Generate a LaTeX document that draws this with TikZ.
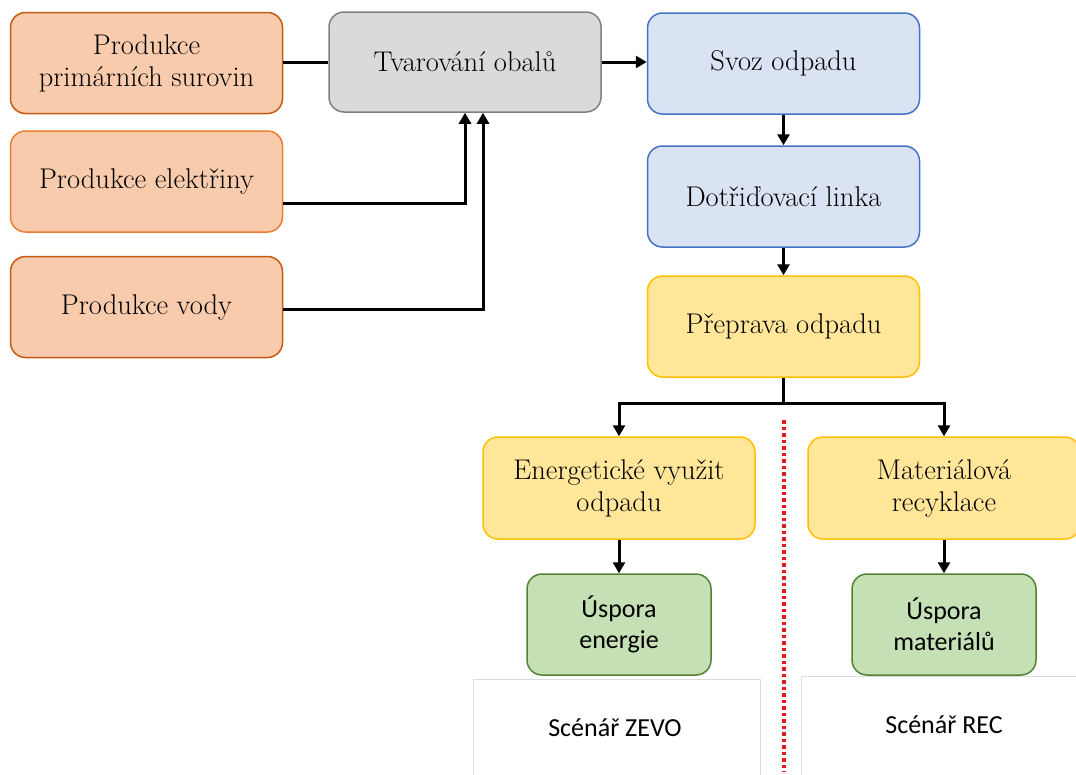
\documentclass[tikz,border=0pt]{standalone}
\usepackage{fontspec}
\newfontfamily\calib{Carlito}
\usetikzlibrary{arrows.meta}
\definecolor{orfill}{HTML}{F8CBAD}
\definecolor{ordark}{HTML}{C55A11}
\definecolor{orlight}{HTML}{ED7D31}
\definecolor{gyfill}{HTML}{DADADA}
\definecolor{gyline}{HTML}{808080}
\definecolor{blfill}{HTML}{DAE3F3}
\definecolor{blline}{HTML}{4472C4}
\definecolor{yefill}{HTML}{FFE699}
\definecolor{yeline}{HTML}{FFC000}
\definecolor{grfill}{HTML}{C5E0B4}
\definecolor{grline}{HTML}{548235}
\definecolor{dotred}{HTML}{E41A1A}
\definecolor{frameg}{HTML}{DCDCDC}
\tikzset{
  box/.style={rounded corners=15pt, line width=1.5pt, minimum width=272pt, minimum height=101pt,
    inner sep=0pt, align=center, font=\fontsize{28.5}{32}\selectfont},
  orbox/.style={box, fill=orfill, draw=ordark},
  orlbox/.style={box, fill=orfill, draw=orlight},
  gybox/.style={box, fill=gyfill, draw=gyline},
  blbox/.style={box, fill=blfill, draw=blline},
  yebox/.style={box, fill=yefill, draw=yeline},
  grbox/.style={box, fill=grfill, draw=grline, minimum width=184pt, font=\calib\fontsize{26}{31}\selectfont},
  conn/.style={line width=3pt, black},
  arr/.style={conn, -{Triangle[length=11pt,width=12pt]}},
  frame/.style={line width=0.8pt, draw=frameg},
  scen/.style={font=\calib\fontsize{26}{30}\selectfont, inner sep=0pt}
}
\begin{document}
\begin{tikzpicture}[x=1pt,y=-1pt]
\useasboundingbox (0,0) rectangle (1076,774);
\fill[white] (0,0) rectangle (1076,774);
% nodes
\node[orbox]  (p1) at (146.5,63) {Produkce\\primárních surovin};
\node[orlbox] (p2) at (146.5,181.5) {Produkce elektřiny};
\node[orbox]  (p3) at (146.5,307) {Produkce vody};
\node[gybox, minimum height=100pt] (tv) at (465,62) {Tvarování obalů};
\node[blbox] (sv) at (783.5,63.5) {Svoz odpadu};
\node[blbox] (dt) at (783.5,196.5) {Dotřiďovací linka};
\node[yebox] (pr) at (783.5,326.5) {Přeprava odpadu};
\node[yebox, minimum height=102pt] (en) at (619,488) {Energetické využit\\odpadu};
\node[yebox, minimum height=102pt] (ma) at (944,488) {Materiálová\\recyklace};
\node[grbox] (ue) at (619,624.5) {Úspora\\energie};
\node[grbox] (um) at (944,624.5) {Úspora\\materiálů};
% scenario frames
\draw[frame] (473,776) -- (473,679) -- (760,679) -- (760,776);
\draw[frame] (801,776) -- (801,676) -- (1078,676);
\node[scen] (sz) at (615,728) {Scénář ZEVO};
\node[scen] (sr) at (944,725) {Scénář REC};
% connectors
\draw[conn] (tv.west -| p1.east) -- (tv.west);
\draw[arr] (tv.east) -- (tv.east -| sv.west);
\draw[arr] ([yshift=-22pt]p2.east) -| (tv.south);
\draw[arr] ([yshift=-2pt]p3.east) -| ([xshift=18pt]tv.south);
\draw[arr] (sv.south) -- (dt.north);
\draw[arr] (dt.south) -- (pr.north);
\coordinate (br) at ([yshift=-26pt]pr.south);
\draw[conn] (pr.south) -- (br);
\draw[arr] ([xshift=1.5pt]br) -| (en.north);
\draw[arr] ([xshift=-1.5pt]br) -| (ma.north);
\draw[arr] (en.south) -- (ue.north);
\draw[arr] (ma.south) -- (um.north);
% dotted divider
\coordinate (d1) at (784,420);
\coordinate (d2) at (784,772);
\draw[dotred, line width=3.5pt, dash pattern=on 3.5pt off 3pt] (d1) -- (d2);
\end{tikzpicture}
\end{document}
